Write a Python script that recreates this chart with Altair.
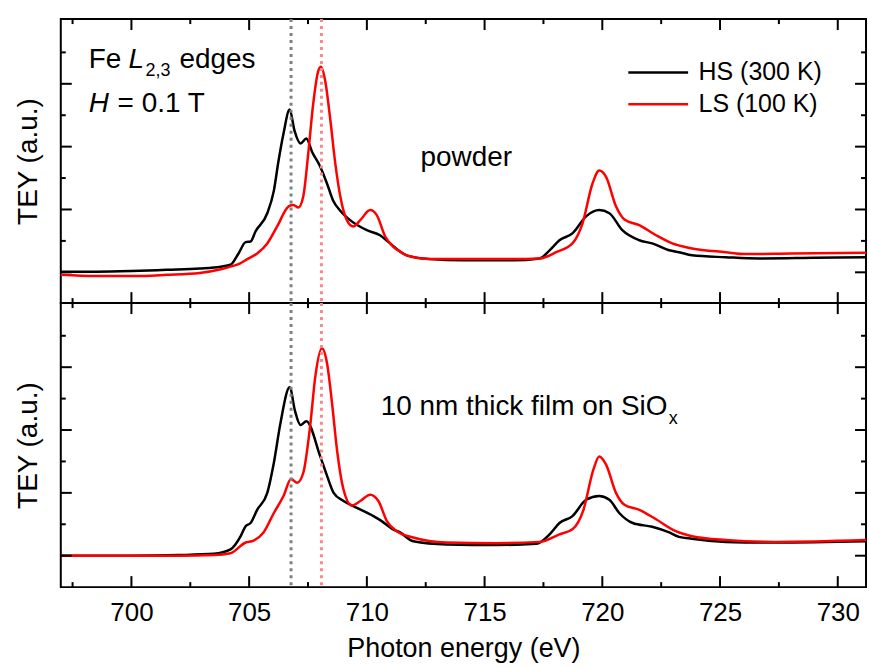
import altair as alt
import pandas as pd

FONT = "Liberation Sans"

series_names = ["HS (300 K)", "LS (100 K)"]
series_colors = ["#000000", "#ff0000"]

# ---------------- powder (top panel) ----------------
top_hs_energy = [697.0, 698.5, 700.0, 701.5, 702.9, 703.8, 704.21, 704.55, 704.85, 705.06,
                 705.27, 705.77, 706.05, 706.25, 706.46, 706.72, 706.93, 707.18, 707.43, 707.67,
                 708.02, 708.31, 708.57, 708.87, 709.29, 710.0, 710.56, 710.99, 711.41, 711.69,
                 712.68, 714.08, 716.19, 717.34, 717.76, 718.18, 718.73, 719.31, 719.87, 720.30,
                 720.85, 721.57, 722.12, 722.84, 723.26, 723.81, 725.24, 726.65, 729.0, 731.2]
top_hs_tey = [0.01, 0.01, 0.02, 0.04, 0.06, 0.09, 0.12, 0.30, 0.48, 0.49,
              0.65, 0.94, 1.30, 1.78, 2.21, 2.59, 2.25, 2.05, 2.13, 1.92,
              1.68, 1.41, 1.14, 0.98, 0.83, 0.67, 0.59, 0.46, 0.33, 0.27,
              0.21, 0.19, 0.19, 0.22, 0.35, 0.51, 0.62, 0.89, 0.99, 0.94,
              0.67, 0.51, 0.46, 0.35, 0.32, 0.27, 0.24, 0.22, 0.23, 0.24]

top_ls_energy = [697.0, 698.5, 700.0, 701.5, 702.9, 703.8, 704.21, 704.6, 704.92, 705.34,
                 705.77, 706.19, 706.68, 706.88, 707.09, 707.30, 707.51, 707.72, 707.94, 708.05,
                 708.23, 708.45, 708.66, 708.87, 709.15, 709.42, 709.72, 710.14, 710.42, 710.78,
                 711.11, 711.41, 711.69, 712.68, 716.19, 717.34, 718.04, 718.73, 719.16, 719.58,
                 719.87, 720.16, 720.58, 720.94, 721.57, 722.28, 722.97, 723.81, 725.24, 726.09,
                 728.05, 731.2]
top_ls_tey = [-0.04, -0.06, -0.06, -0.04, -0.01, 0.05, 0.09, 0.14, 0.21, 0.30,
              0.46, 0.73, 1.05, 1.07, 1.03, 1.21, 1.89, 2.68, 3.21, 3.27,
              3.05, 2.42, 1.73, 1.21, 0.83, 0.73, 0.83, 0.99, 0.91, 0.57,
              0.41, 0.33, 0.27, 0.21, 0.21, 0.22, 0.32, 0.46, 0.78, 1.41,
              1.62, 1.52, 1.05, 0.84, 0.75, 0.59, 0.46, 0.38, 0.32, 0.29,
              0.30, 0.31]

# ---------------- 10 nm film (bottom panel) ----------------
bot_hs_energy = [697.0, 700.0, 702.0, 703.5, 704.21, 704.64, 704.85, 705.06, 705.34, 705.77,
                 706.05, 706.33, 706.72, 706.95, 707.18, 707.43, 708.02, 708.31, 708.59, 709.01,
                 709.58, 710.28, 710.63, 711.11, 711.41, 711.97, 713.39, 715.50, 717.20, 717.76,
                 718.18, 718.73, 719.31, 719.87, 720.30, 720.72, 721.29, 722.12, 722.84, 723.26,
                 723.81, 725.24, 727.36, 731.2]
bot_hs_tey = [0.0, 0.0, 0.01, 0.03, 0.10, 0.31, 0.47, 0.52, 0.73, 1.00,
              1.48, 2.11, 2.68, 2.30, 2.08, 2.14, 1.58, 1.27, 1.00, 0.87,
              0.76, 0.63, 0.55, 0.42, 0.37, 0.23, 0.18, 0.17, 0.19, 0.34,
              0.52, 0.63, 0.89, 0.95, 0.89, 0.68, 0.52, 0.46, 0.37, 0.30,
              0.27, 0.22, 0.21, 0.23]

bot_ls_energy = [697.0, 700.0, 702.0, 703.5, 704.21, 704.85, 705.19, 705.61, 706.05, 706.46,
                 706.78, 707.04, 707.30, 707.59, 707.81, 708.09, 708.31, 708.52, 708.73, 709.01,
                 709.36, 709.72, 710.14, 710.49, 710.85, 711.27, 711.97, 713.39, 715.50, 717.34,
                 718.18, 718.73, 719.20, 719.62, 719.87, 720.16, 720.58, 720.94, 721.57, 722.28,
                 723.12, 723.81, 725.24, 727.36, 731.2]
bot_ls_tey = [0.0, 0.0, 0.0, 0.01, 0.04, 0.21, 0.24, 0.37, 0.68, 0.95,
              1.22, 1.16, 1.32, 2.06, 2.85, 3.30, 3.06, 2.43, 1.69, 1.05,
              0.80, 0.87, 0.97, 0.87, 0.55, 0.39, 0.29, 0.21, 0.20, 0.22,
              0.34, 0.42, 0.73, 1.37, 1.58, 1.45, 1.00, 0.81, 0.73, 0.58,
              0.39, 0.31, 0.25, 0.22, 0.25]

# axis ticks
x_major = [700, 705, 710, 715, 720, 725, 730]
x_minor = [697.5, 702.5, 707.5, 712.5, 717.5, 722.5, 727.5]
y_major = [0, 1, 2, 3]
y_minor = [0.5, 1.5, 2.5, 3.5]

# vertical guide lines (HS and LS L3 maxima)
marker_energy = [706.78, 708.07]
marker_color = ["#808080", "#f28b8b"]

# annotations
txt_fe, txt_L, txt_sub23, txt_edges = "Fe", "L", "2,3", "edges"
txt_H, txt_field = "H", "= 0.1 T"
txt_powder = "powder"
txt_film, txt_sub_x = "10 nm thick film on SiO", "x"

W, H = 808, 285
X_DOMAIN = [697.0, 731.2]
TOP_Y_DOMAIN = [-0.49, 4.03]
BOT_Y_DOMAIN = [-0.50, 4.02]
MAJOR_LEN, MINOR_LEN = 11, 5


def xscale():
    return alt.Scale(domain=X_DOMAIN, nice=False, zero=False)


def yscale(dom):
    return alt.Scale(domain=dom, nice=False, zero=False)


def series_df(e_hs, v_hs, e_ls, v_ls):
    a = pd.DataFrame({"energy": e_hs, "tey": v_hs, "series": series_names[0]})
    b = pd.DataFrame({"energy": e_ls, "tey": v_ls, "series": series_names[1]})
    return pd.concat([a, b], ignore_index=True)


legend = alt.Legend(
    orient="none", legendX=587, legendY=41, title=None,
    symbolType="M-5,0H5", symbolSize=144, symbolStrokeWidth=2.5,
    labelFontSize=25, labelFont=FONT, labelColor="black",
    labelOffset=28, rowPadding=6, padding=0,
)

Y_AXIS = alt.Axis(title="TEY (a.u.)", labels=False, ticks=False, domain=False,
                  grid=False, titlePadding=18, titleFontSize=28,
                  titleFontWeight="normal")
X_AXIS_BOTTOM = alt.Axis(values=x_major, title="Photon energy (eV)", labels=True, ticks=False,
                         domain=False, grid=False, labelFontSize=26, titleFontSize=27,
                         labelPadding=12, titlePadding=11, titleFontWeight="normal",
                         labelFlush=False, labelOverlap=False, format="d")
X_AXIS_TOP = alt.Axis(values=x_major, title=None, labels=False, ticks=False,
                      domain=False, grid=False)


def tick_layers(ydom, xaxis):
    layers = []
    for vals, L in [(x_major, MAJOR_LEN), (x_minor, MINOR_LEN)]:
        base = alt.Chart(pd.DataFrame({"v": vals})).mark_rule(color="black", strokeWidth=2)
        xe = alt.X("v:Q", scale=xscale(), axis=xaxis)
        layers.append(base.encode(x=xe, y=alt.value(H), y2=alt.value(H - L)))
        layers.append(base.encode(x=xe, y=alt.value(0), y2=alt.value(L)))
    for vals, L in [(y_major, MAJOR_LEN), (y_minor, MINOR_LEN)]:
        base = alt.Chart(pd.DataFrame({"v": vals})).mark_rule(color="black", strokeWidth=2)
        ye = alt.Y("v:Q", scale=yscale(ydom), axis=Y_AXIS)
        layers.append(base.encode(y=ye, x=alt.value(0), x2=alt.value(L)))
        layers.append(base.encode(y=ye, x=alt.value(W), x2=alt.value(W - L)))
    return layers


def text_layer(t, x, y, size=28, style="normal"):
    return alt.Chart(pd.DataFrame({"t": [t]})).mark_text(
        align="left", baseline="alphabetic", fontSize=size, font=FONT,
        fontStyle=style, color="black"
    ).encode(x=alt.value(x), y=alt.value(y), text="t:N")


def panel(df, ydom, bottom, texts):
    xaxis = X_AXIS_BOTTOM if bottom else X_AXIS_TOP
    markers = alt.Chart(pd.DataFrame({"e": marker_energy, "c": marker_color})).mark_rule(
        strokeWidth=3, strokeDash=[3, 4]
    ).encode(
        x=alt.X("e:Q", scale=xscale(), axis=xaxis),
        stroke=alt.Stroke("c:N", scale=None),
    )
    lines = alt.Chart(df).mark_line(strokeWidth=2.5, interpolate="monotone", clip=True).encode(
        x=alt.X("energy:Q", scale=xscale(), axis=xaxis),
        y=alt.Y("tey:Q", scale=yscale(ydom), axis=Y_AXIS),
        color=alt.Color("series:N", scale=alt.Scale(domain=series_names, range=series_colors),
                        legend=legend),
        detail="series:N",
    )
    return alt.layer(lines, markers, *tick_layers(ydom, xaxis), *texts).properties(width=W, height=H)


top_texts = [
    text_layer(txt_fe, 28, 49),
    text_layer(txt_L, 68, 49, style="italic"),
    text_layer(txt_sub23, 85, 57, size=18),
    text_layer(txt_edges, 119, 49),
    text_layer(txt_H, 28, 93, style="italic"),
    text_layer(txt_field, 57, 93),
    text_layer(txt_powder, 361, 147),
]
bot_texts = [
    text_layer(txt_film, 321, 112),
    text_layer(txt_sub_x, 610, 121, size=18),
]

top = panel(series_df(top_hs_energy, top_hs_tey, top_ls_energy, top_ls_tey), TOP_Y_DOMAIN, False, top_texts)
bottom = panel(series_df(bot_hs_energy, bot_hs_tey, bot_ls_energy, bot_ls_tey), BOT_Y_DOMAIN, True, bot_texts)

chart = alt.vconcat(top, bottom, spacing=0, bounds="flush").resolve_scale(
    y="independent"
).properties(
    padding={"left": 14, "top": 15, "right": 1, "bottom": 2}
).configure_view(
    stroke="black", strokeWidth=2
).configure_axis(
    labelFont=FONT, titleFont=FONT, labelColor="black", titleColor="black"
)

chart.save("out.html", embed_options={"renderer": "svg", "actions": False})
